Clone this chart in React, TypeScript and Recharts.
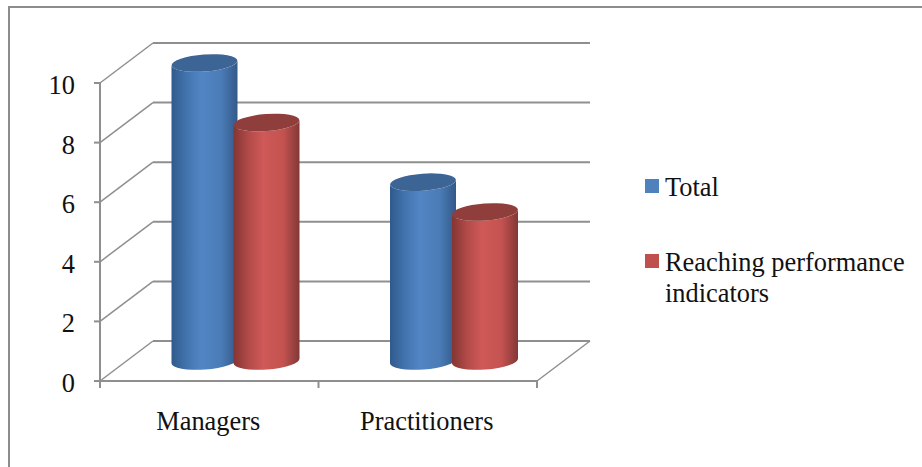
import React from "react";
import {
  BarChart,
  Bar,
  CartesianGrid,
  XAxis,
  YAxis,
  Legend,
} from "recharts";

const categories = ["Managers", "Practitioners"];
const totalValues = [10, 6];
const reachingValues = [8, 5];
const yTicks = [0, 2, 4, 6, 8, 10];

const chartData = categories.map((name, i) => ({
  name,
  Total: totalValues[i],
  "Reaching performance indicators": reachingValues[i],
}));

const FONT = '"Liberation Serif", "Times New Roman", serif';
const AXIS_GREY = "#8f8f8f";

// fake 3D depth: how far the back wall sits from the front axes
const DEPTH_X = 53;
const DEPTH_Y = -40;
const BAND = 218.5;

// tilted ellipse used for the cylinder caps
const RY = 8.5;
const TILT = -4.3;
const EDGE_DY = 2.5;

function wallLine(props: any) {
  const { x1, x2, y1, index } = props;
  const isFloor = y1 >= 380;
  const backY = y1 + DEPTH_Y;
  return (
    <g key={`wall-${index}`} fill="none" stroke={AXIS_GREY}>
      <path d={`M${x1} ${y1}L${x1 + DEPTH_X} ${backY}`} strokeWidth={1.5} />
      <path
        d={`M${x1 + DEPTH_X} ${backY}L${x2 + DEPTH_X} ${backY}`}
        strokeWidth={2}
      />
      {isFloor && (
        <path
          d={`M${x2 + DEPTH_X} ${backY}L${x2} ${y1}`}
          strokeWidth={1.5}
        />
      )}
    </g>
  );
}

function Cylinder(props: any) {
  const { x, y, width, height, gradient, cap } = props;
  const left = x + DEPTH_X / 2;
  const right = left + width;
  const top = y + DEPTH_Y / 2;
  const bottom = top + height;
  const rx = width / 2;
  const body =
    `M${left} ${top + EDGE_DY}` +
    `L${left} ${bottom + EDGE_DY}` +
    `A${rx} ${RY} ${TILT} 0 0 ${right} ${bottom - EDGE_DY}` +
    `L${right} ${top - EDGE_DY}` +
    `A${rx} ${RY} ${TILT} 0 1 ${left} ${top + EDGE_DY}Z`;
  return (
    <g>
      <path d={body} fill={`url(#${gradient})`} />
      <ellipse
        cx={left + rx}
        cy={top}
        rx={rx}
        ry={RY}
        fill={cap}
        transform={`rotate(${TILT} ${left + rx} ${top})`}
      />
    </g>
  );
}

function CategoryTick(props: any) {
  const { x, payload, index } = props;
  return (
    <g>
      <path d={`M${x - BAND / 2} 381v7`} stroke={AXIS_GREY} strokeWidth={2} />
      {index === categories.length - 1 && (
        <path d={`M${x + BAND / 2} 381v7`} stroke={AXIS_GREY} strokeWidth={2} />
      )}
      <text
        x={x - 1}
        y={430}
        textAnchor="middle"
        fontFamily={FONT}
        fontSize={26.4}
        fill="#111"
      >
        {payload.value}
      </text>
    </g>
  );
}

function ValueTick(props: any) {
  const { x, y, payload } = props;
  return (
    <text
      x={x}
      y={y + 11}
      textAnchor="end"
      fontFamily={FONT}
      fontSize={26.4}
      fill="#111"
    >
      {payload.value}
    </text>
  );
}

function LegendBox({ payload }: any) {
  return (
    <div style={{ fontFamily: FONT, fontSize: 26.4, color: "#111" }}>
      {(payload || []).map((entry: any, i: number) => (
        <div
          key={entry.value}
          style={{
            display: "flex",
            alignItems: "flex-start",
            lineHeight: "31px",
            marginBottom: i === 0 ? 44 : 0,
          }}
        >
          <div
            style={{
              width: 14,
              height: 14,
              marginTop: 7,
              marginRight: 6,
              flexShrink: 0,
              backgroundColor: entry.color,
            }}
          />
          <span>{entry.value}</span>
        </div>
      ))}
    </div>
  );
}

export default function App() {
  return (
    <div
      style={{
        position: "absolute",
        left: 0,
        top: 0,
        width: 922,
        height: 467,
        background: "#fff",
        overflow: "hidden",
      }}
    >
      {/* outer chart frame, only top and left edges are in view */}
      <div
        style={{
          position: "absolute",
          left: 8,
          top: 6,
          width: 914,
          height: 461,
          boxSizing: "border-box",
          borderTop: "2px solid #8c8c8c",
          borderLeft: "2px solid #8c8c8c",
        }}
      />
      <div style={{ position: "absolute", left: 0, top: 0 }}>
        <BarChart
          width={922}
          height={467}
          data={chartData}
          margin={{ top: 83, right: 385, bottom: 0, left: 0 }}
          barSize={66}
          barGap={-4}
        >
          <defs>
            <linearGradient id="blueBody" x1="0" y1="0" x2="1" y2="0">
              <stop offset="0%" stopColor="#2f5a8c" />
              <stop offset="22%" stopColor="#4273ad" />
              <stop offset="45%" stopColor="#5185c4" />
              <stop offset="75%" stopColor="#4b7cb7" />
              <stop offset="100%" stopColor="#33598a" />
            </linearGradient>
            <linearGradient id="redBody" x1="0" y1="0" x2="1" y2="0">
              <stop offset="0%" stopColor="#843533" />
              <stop offset="22%" stopColor="#b04a48" />
              <stop offset="45%" stopColor="#cf5957" />
              <stop offset="75%" stopColor="#c45350" />
              <stop offset="100%" stopColor="#823836" />
            </linearGradient>
          </defs>
          <CartesianGrid vertical={false} horizontal={wallLine} />
          <XAxis
            dataKey="name"
            height={86}
            tickLine={false}
            axisLine={{ stroke: AXIS_GREY, strokeWidth: 2 }}
            tick={<CategoryTick />}
            interval={0}
          />
          <YAxis
            width={100}
            domain={[0, 10]}
            ticks={yTicks}
            interval={0}
            tickSize={6}
            tickMargin={19}
            axisLine={{ stroke: AXIS_GREY, strokeWidth: 2 }}
            tickLine={{ stroke: AXIS_GREY, strokeWidth: 2 }}
            tick={<ValueTick />}
          />
          <Legend
            layout="vertical"
            align="center"
            verticalAlign="middle"
            itemSorter={null}
            content={<LegendBox />}
            wrapperStyle={{ position: "absolute", left: 645, top: 172, width: 270 }}
          />
          <Bar
            dataKey="Total"
            fill="#4f81bd"
            isAnimationActive={false}
            shape={<Cylinder gradient="blueBody" cap="#3c6595" />}
          />
          <Bar
            dataKey="Reaching performance indicators"
            fill="#c0504d"
            isAnimationActive={false}
            shape={<Cylinder gradient="redBody" cap="#8f3e3b" />}
          />
        </BarChart>
      </div>
    </div>
  );
}
